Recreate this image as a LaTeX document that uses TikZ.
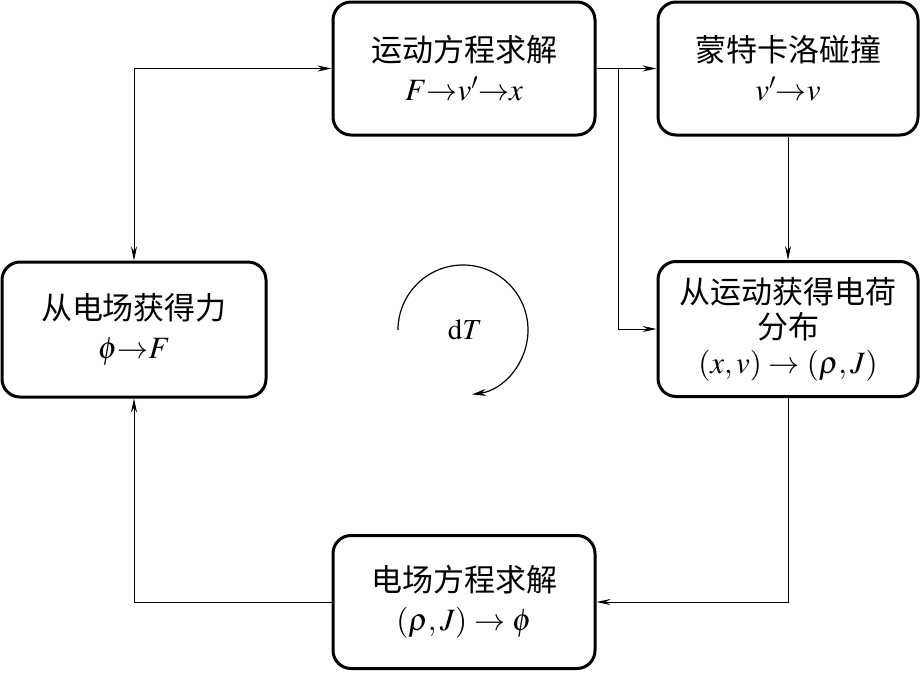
\documentclass[tikz,border=0pt]{standalone}
\usepackage{mathptmx}
\usepackage{fontspec}
\setmainfont{Liberation Serif}
\newfontfamily\cjk{Noto Sans CJK SC}
\usetikzlibrary{arrows.meta}
\tikzset{
  box/.style={draw, line width=3pt, rounded corners=18pt, align=center,
    minimum width=262pt, minimum height=133pt, inner sep=0pt,
    font=\fontsize{31}{39}\selectfont},
  box3/.style={box, font=\fontsize{31}{35}\selectfont},
  conn/.style={line width=0.9pt, -{Stealth[length=14pt,width=6pt]}},
  conn2/.style={line width=0.9pt, {Stealth[length=14pt,width=6pt]}-{Stealth[length=14pt,width=6pt]}},
}
\begin{document}
\begin{tikzpicture}[x=1pt,y=-1pt]
\useasboundingbox (0,0) rectangle (924,673);
\node[box] (TM) at (464,68.5) {{\cjk 运动方程求解}\\$F{\rightarrow}v'{\rightarrow}x$};
\node[box, minimum width=260pt] (TR) at (788,68.5) {{\cjk 蒙特卡洛碰撞}\\$v'{\rightarrow}v$};
\node[box3, minimum width=260pt, minimum height=135pt] (RM) at (788,329) {{\cjk 从运动获得电荷}\\{\cjk 分布}\\$(x,v)\rightarrow(\rho,J)$};
\node[box, minimum width=264pt, minimum height=135pt] (L) at (134,329.5) {{\cjk 从电场获得力}\\$\phi{\rightarrow}F$};
\node[box] (B) at (464,602) {{\cjk 电场方程求解}\\$(\rho,J)\rightarrow\phi$};
\node[font=\fontsize{29}{30}\selectfont] (dT) at (465,330) {$\mathrm{d}T$};
\coordinate (br) at (618,68.5);
\draw[conn2] (L.north) |- (TM.west);
\draw[conn] (TM.east) -- (TR.west);
\draw[conn] (br) |- (RM.west);
\draw[conn] (TR.south) -- (RM.north);
\draw[conn] (RM.south) |- (B.east);
\draw[conn] (B.west) -| (L.south);
\draw[line width=1.2pt, -{Stealth[length=14pt,width=7pt]}] (398,330) arc[start angle=180, end angle=442, radius=65];
\end{tikzpicture}
\end{document}
